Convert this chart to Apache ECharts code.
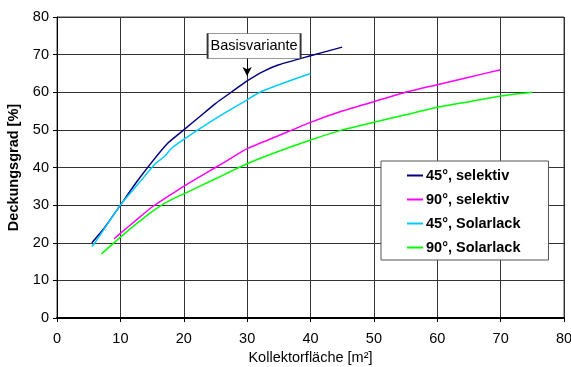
<!DOCTYPE html>
<html><head><meta charset="utf-8">
<script src="https://cdn.jsdelivr.net/npm/echarts@6/dist/echarts.min.js"></script>
<style>html,body{margin:0;padding:0;background:#fff}#c{width:571px;height:367px}</style>
</head><body><div id="c"></div>
<script>
const seriesNames = ['45°, selektiv', '90°, selektiv', '45°, Solarlack', '90°, Solarlack'];
const sel45 = [[5.5,20],[7.5,24],[10,30],[12.5,36],[15,41.5],[17.5,46.5],[20,50],[22.5,53.5],[25,57],[27.5,60],[30,63],[32.5,65.5],[35,67.3],[40,69.7],[45,72]];
const sel90 = [[9,21],[10,22.5],[12.5,26],[15,29.5],[17.5,32.3],[20,35],[22.5,37.5],[25,40],[27.5,42.5],[30,45],[35,48.5],[40,52],[45,55],[50,57.5],[55,60],[60,62],[65,64],[70,66]];
const sol45 = [[5.5,19],[6,20],[10,30],[13,36],[15.5,41],[17,43],[18,45],[20,47.5],[25,53],[30,58],[32,60],[35,62],[40,65]];
const sol90 = [[7,17],[10,21.5],[12.5,25],[15,28.3],[17.5,31],[20,33],[25,37],[30,41],[35,44.3],[40,47.3],[45,50],[50,52],[55,54],[60,56],[65,57.5],[70,59],[75,60]];
const colors = ['#000080', '#ff00ff', '#00ccff', '#00ff00'];
const annotationText = 'Basisvariante';
const annotationPoint = [30, 63];
const annotationBox = [31.1, 72.3];

const font = 'Liberation Sans, Arial, sans-serif';
const fs = 14.5;
const chart = echarts.init(document.getElementById('c'), null, {renderer: 'canvas'});
const data = [sel45, sel90, sol45, sol90];
const series = data.map((d, i) => ({
  name: seriesNames[i], type: 'line', data: d, showSymbol: false, symbol: 'none',
  smooth: 0.2, lineStyle: {color: colors[i], width: 1.5}, itemStyle: {color: colors[i]}, z: 3
}));
series[0].markLine = {
  silent: true, symbol: ['none', 'arrow'], symbolSize: [7, 9],
  lineStyle: {color: '#000', width: 1, type: 'solid'}, label: {show: false},
  data: [[{coord: [annotationPoint[0], 69.1]}, {coord: [annotationPoint[0], 64.3]}]]
};
series[0].markPoint = {
  silent: true, symbol: 'rect', symbolSize: [93, 25],
  itemStyle: {color: '#fff', borderColor: '#333', borderWidth: 1},
  label: {show: true, formatter: annotationText, color: '#000', fontFamily: font, fontSize: fs},
  data: [{coord: annotationBox}]
};
chart.setOption({
  animation: false,
  color: colors,
  grid: {left: 57, right: 7, top: 17, bottom: 49, show: true, borderColor: '#444', borderWidth: 1, outerBoundsMode: 'none', containLabel: false},
  xAxis: {
    type: 'value', min: 0, max: 80, interval: 10,
    name: 'Kollektorfläche [m²]', nameLocation: 'middle', nameGap: 30,
    nameTextStyle: {fontFamily: font, fontSize: fs, color: '#000'},
    axisLine: {show: true, lineStyle: {color: '#000', width: 2}},
    axisTick: {show: true, length: 4, lineStyle: {color: '#000'}},
    axisLabel: {fontFamily: font, fontSize: fs, color: '#000', margin: 13},
    splitLine: {show: true, lineStyle: {color: '#333', width: 1}}
  },
  yAxis: {
    type: 'value', min: 0, max: 80, interval: 10,
    name: 'Deckungsgrad [%]', nameLocation: 'middle', nameGap: 29, nameRotate: 90,
    nameTextStyle: {fontFamily: font, fontSize: fs, fontWeight: 'bold', color: '#000'},
    axisLine: {show: true, lineStyle: {color: '#000', width: 1}},
    axisTick: {show: true, length: 4, lineStyle: {color: '#000'}},
    axisLabel: {fontFamily: font, fontSize: fs, color: '#000', margin: 8},
    splitLine: {show: true, lineStyle: {color: '#333', width: 1}}
  },
  legend: {
    orient: 'vertical', left: 381, top: 161,
    padding: [7, 28, 5, 26], itemGap: 9, itemWidth: 16, itemHeight: 2,
    icon: 'rect', backgroundColor: '#fff', borderColor: '#555', borderWidth: 1,
    textStyle: {fontFamily: font, fontSize: fs, fontWeight: 'bold', color: '#000', lineHeight: 15, padding: [0, 0, 0, -2]},
    data: seriesNames
  },
  series: series
});
</script></body></html>
